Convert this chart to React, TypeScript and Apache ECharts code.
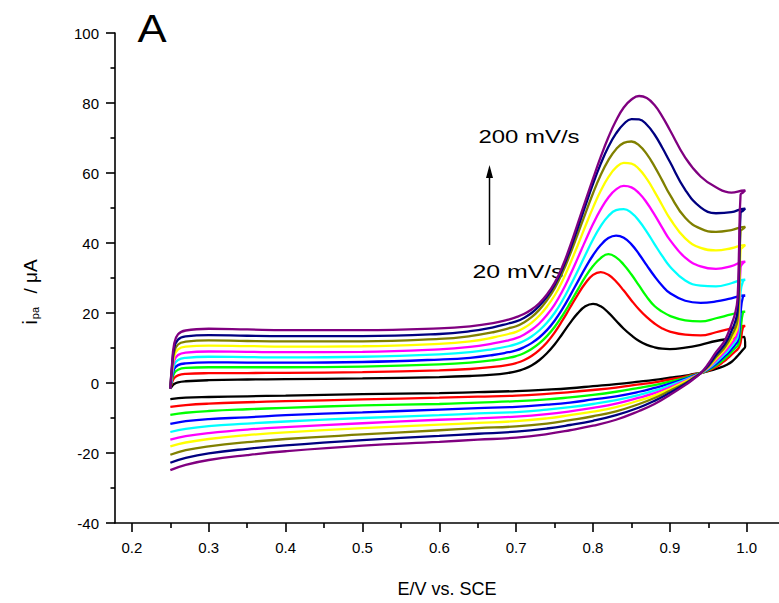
import React, { useEffect, useRef } from "react";
import * as echarts from "echarts";

// Scan rates (mV/s) and their colours
const scanRates = [20, 40, 60, 80, 100, 120, 140, 160, 180, 200];
const lineColors = ["#000000", "#ff0000", "#00ff00", "#0000ff", "#00ffff", "#ff00ff", "#ffff00", "#808000", "#000080", "#800080"];

// Axis tick labels
const xTickValues = [0.2, 0.3, 0.4, 0.5, 0.6, 0.7, 0.8, 0.9, 1.0];
const xMinorTickValues = [0.25, 0.35, 0.45, 0.55, 0.65, 0.75, 0.85, 0.95];

// Potentials (V vs SCE) of the anodic (forward) and cathodic (reverse) scans
const forwardE = [0.25, 0.252, 0.255, 0.26, 0.27, 0.3, 0.35, 0.4, 0.5,
  0.6, 0.64, 0.67, 0.69,
  0.7, 0.71, 0.72, 0.73, 0.74, 0.75, 0.76, 0.77, 0.78, 0.79, 0.8, 0.81, 0.82, 0.83, 0.84, 0.85, 0.86, 0.87, 0.88, 0.89, 0.9,
  0.92, 0.94, 0.96, 0.98, 0.997];
const reverseE = [0.998, 0.995, 0.992, 0.99, 0.988, 0.985, 0.98, 0.975, 0.97, 0.96,
  0.95, 0.94, 0.93, 0.92, 0.9, 0.88, 0.86, 0.83, 0.8, 0.77,
  0.74, 0.7, 0.65, 0.6, 0.5, 0.4, 0.35, 0.3, 0.27, 0.25];

// Currents (µA), forward scans
const fwd20 = [-1.6, -1.0, -0.3, 0.2, 0.5, 0.8, 1.0, 1.1, 1.3,
  1.7, 2.0, 2.4, 2.9,
  3.3, 4.0, 5.0, 6.5, 8.5, 11.0, 14.0, 17.1, 19.9, 21.9, 22.6, 21.9, 20.1, 17.8, 15.5, 13.6, 12.0, 10.9, 10.2, 9.8, 9.7,
  10.1, 10.9, 12.0, 12.7, 13.2];
const fwd40 = [-1.6, 0.0, 1.4, 2.2, 2.6, 2.8, 2.85, 2.9, 3.1,
  3.6, 4.0, 4.6, 5.2,
  5.7, 6.5, 7.7, 9.4, 11.6, 14.4, 17.8, 21.5, 25.2, 28.5, 30.9, 31.7, 30.9, 29.0, 26.4, 23.6, 21.0, 18.8, 17.0, 15.6, 14.7,
  13.8, 13.6, 14.5, 15.6, 16.3];
const fwd60 = [-1.6, 0.6, 2.8, 3.8, 4.3, 4.5, 4.5, 4.5, 4.7,
  5.3, 5.8, 6.5, 7.2,
  7.7, 8.5, 9.7, 11.3, 13.4, 16.0, 19.2, 22.8, 26.6, 30.3, 33.4, 35.7, 36.8, 35.9, 33.8, 31.0, 27.8, 24.6, 22.0, 20.4, 19.2,
  17.9, 17.6, 18.5, 19.6, 20.4];
const fwd80 = [-1.6, 1.2, 4.0, 5.1, 5.6, 5.9, 5.85, 5.8, 6.0,
  6.7, 7.2, 8.0, 8.8,
  9.3, 10.2, 11.4, 13.0, 15.1, 17.8, 21.1, 24.9, 28.9, 32.9, 36.5, 39.4, 41.4, 42.1, 41.5, 39.6, 36.8, 33.6, 30.5, 27.8, 25.7,
  23.5, 22.9, 23.3, 24.2, 25.0];
const fwd100 = [-1.6, 1.8, 5.2, 6.6, 7.2, 7.5, 7.4, 7.3, 7.5,
  8.2, 8.8, 9.7, 10.5,
  11.1, 12.0, 13.3, 15.0, 17.2, 20.0, 23.5, 27.6, 32.0, 36.6, 41.0, 44.8, 47.7, 49.4, 49.7, 48.6, 46.3, 43.2, 39.7, 36.3, 33.3,
  29.3, 27.8, 27.6, 28.5, 29.5];
const fwd120 = [-1.6, 2.4, 6.4, 8.0, 8.7, 9.0, 8.9, 8.8, 8.9,
  9.6, 10.3, 11.3, 12.2,
  12.8, 13.8, 15.2, 17.0, 19.4, 22.4, 26.2, 30.7, 35.6, 40.6, 45.4, 49.6, 53.0, 55.3, 56.3, 55.9, 54.2, 51.5, 48.1, 44.4, 40.9,
  35.8, 33.3, 32.6, 33.4, 34.7];
const fwd140 = [-1.6, 3.0, 7.6, 9.6, 10.4, 10.7, 10.55, 10.4, 10.5,
  11.2, 11.9, 13.0, 14.0,
  14.6, 15.7, 17.2, 19.2, 21.8, 25.0, 29.1, 34.0, 39.3, 44.8, 50.1, 54.9, 58.8, 61.6, 62.9, 62.7, 61.1, 58.3, 54.7, 50.8, 47.0,
  41.3, 38.6, 37.9, 38.5, 39.4];
const fwd160 = [-1.6, 3.6, 8.8, 11.0, 11.8, 12.2, 12.0, 11.9, 11.9,
  12.6, 13.4, 14.5, 15.6,
  16.2, 17.3, 18.8, 20.9, 23.6, 27.0, 31.4, 36.7, 42.5, 48.4, 54.2, 59.4, 63.7, 66.8, 68.6, 69.0, 67.9, 65.4, 61.9, 57.9, 53.8,
  47.2, 44.1, 43.2, 43.7, 44.6];
const fwd180 = [-1.6, 4.2, 10.0, 12.4, 13.3, 13.7, 13.5, 13.4, 13.4,
  14.0, 14.8, 15.9, 17.0,
  17.6, 18.6, 20.0, 22.0, 24.6, 28.0, 32.5, 38.0, 44.2, 50.6, 56.9, 62.6, 67.5, 71.3, 74.0, 75.4, 75.3, 73.8, 71.0, 67.3, 63.2,
  55.2, 50.2, 48.5, 48.8, 49.8];
const fwd200 = [-1.6, 4.8, 11.2, 13.9, 15.0, 15.5, 15.3, 15.1, 15.1,
  15.6, 16.2, 17.1, 18.1,
  18.8, 19.7, 21.0, 22.8, 25.3, 28.6, 33.2, 39.0, 45.5, 52.0, 58.4, 64.6, 70.2, 75.0, 78.7, 81.0, 82.0, 81.4, 79.4, 76.2, 72.3,
  64.4, 59.0, 55.9, 54.4, 55.0];

// Currents (µA), reverse scans
const rev20 = [10.4, 9.5, 8.7, 8.2, 7.7, 7.0, 6.0, 5.3, 4.8, 4.0,
  3.4, 2.9, 2.5, 2.1, 1.5, 0.9, 0.4, -0.3, -0.9, -1.5,
  -1.9, -2.3, -2.6, -2.9, -3.2, -3.6, -3.8, -4.0, -4.2, -4.6];
const rev40 = [16.3, 15.8, 11.5, 10.2, 9.6, 9.0, 8.0, 7.0, 6.1, 4.6,
  3.5, 2.8, 2.4, 1.8, 1.0, 0.2, -0.4, -1.3, -2.0, -2.6,
  -3.1, -3.6, -3.9, -4.2, -4.7, -5.2, -5.5, -5.9, -6.3, -6.8];
const rev60 = [20.4, 20.0, 15.0, 11.6, 10.6, 10.0, 8.8, 7.7, 6.7, 5.0,
  3.7, 2.8, 2.2, 1.5, 0.4, -0.6, -1.4, -2.5, -3.4, -4.1,
  -4.7, -5.2, -5.6, -6.0, -6.4, -7.1, -7.5, -8.0, -8.5, -9.1];
const rev80 = [25.0, 24.6, 20.0, 13.5, 11.8, 10.9, 9.6, 8.4, 7.4, 5.4,
  3.9, 2.8, 2.0, 1.2, -0.2, -1.4, -2.5, -3.8, -4.7, -5.6,
  -6.2, -6.8, -7.2, -7.6, -8.4, -9.2, -9.8, -10.3, -10.9, -11.7];
const rev100 = [29.5, 29.0, 26.0, 16.0, 13.0, 11.8, 10.4, 9.1, 8.0, 5.9,
  4.1, 2.8, 1.8, 0.9, -0.7, -2.2, -3.4, -4.9, -6.0, -6.9,
  -7.6, -8.3, -8.7, -9.2, -10.0, -11.0, -11.6, -12.3, -13.1, -14.0];
const rev120 = [34.7, 34.2, 33.0, 19.0, 14.4, 12.8, 11.2, 9.8, 8.6, 6.4,
  4.3, 2.8, 1.7, 0.6, -1.2, -2.9, -4.2, -5.9, -7.1, -8.1,
  -8.9, -9.6, -10.1, -10.5, -11.5, -12.6, -13.3, -14.3, -15.2, -16.2];
const rev140 = [39.4, 38.8, 38.0, 22.5, 16.0, 14.2, 12.2, 10.6, 9.2, 6.9,
  4.5, 2.8, 1.5, 0.4, -1.7, -3.6, -5.0, -6.9, -8.2, -9.2,
  -10.1, -10.9, -11.4, -11.9, -12.9, -14.1, -14.9, -16.0, -17.0, -18.1];
const rev160 = [44.6, 44.0, 43.4, 27.0, 18.0, 15.6, 13.4, 11.4, 9.8, 7.4,
  4.7, 2.8, 1.4, 0.0, -2.2, -4.3, -6.0, -8.1, -9.5, -10.6,
  -11.6, -12.4, -12.9, -13.5, -14.7, -16.0, -16.9, -18.1, -19.2, -20.5];
const rev180 = [49.8, 49.2, 48.6, 32.0, 20.5, 17.5, 14.8, 12.4, 10.6, 8.0,
  5.0, 2.8, 1.2, -0.3, -2.8, -5.1, -7.0, -9.2, -10.8, -12.0,
  -13.0, -13.9, -14.5, -15.1, -16.3, -17.8, -18.8, -20.1, -21.4, -22.8];
const rev200 = [55.0, 54.4, 53.8, 38.0, 24.0, 20.0, 16.6, 13.8, 11.6, 8.8,
  5.5, 2.8, 1.0, -0.6, -3.4, -6.0, -8.0, -10.5, -12.2, -13.5,
  -14.6, -15.6, -16.2, -16.8, -17.9, -19.5, -20.6, -22.0, -23.4, -24.9];

const forwardSets = [fwd20, fwd40, fwd60, fwd80, fwd100, fwd120, fwd140, fwd160, fwd180, fwd200];
const reverseSets = [rev20, rev40, rev60, rev80, rev100, rev120, rev140, rev160, rev180, rev200];

const FONT = "'Liberation Sans', Arial, Helvetica, sans-serif";

export default function App() {
  const ref = useRef<HTMLDivElement>(null);

  useEffect(() => {
    if (!ref.current) return;
    const chart = echarts.init(ref.current, undefined, { renderer: "svg" });

    const series = scanRates.map((rate, k) => ({
      type: "line",
      name: rate + " mV/s",
      data: [
        ...forwardE.map((e, i) => [e, forwardSets[k][i]]),
        ...reverseE.map((e, i) => [e, reverseSets[k][i]]),
      ],
      showSymbol: false,
      symbol: "none",
      smooth: 0.45,
      lineStyle: { color: lineColors[k], width: 2.3 },
      itemStyle: { color: lineColors[k] },
      z: 2 + k,
      clip: true,
    }));

    const axisLineStyle = { color: "#000", width: 1.6 };
    const centred = { align: "center", verticalAlign: "middle", textAlign: "center", textVerticalAlign: "middle" };

    chart.setOption({
      animation: false,
      backgroundColor: "#ffffff",
      grid: { left: 115, right: 0, top: 33, bottom: 75.5, containLabel: false },
      xAxis: [
        {
          type: "value",
          min: 0.178,
          max: 1.042,
          position: "bottom",
          axisLine: { show: true, onZero: false, lineStyle: axisLineStyle },
          axisTick: { show: true, inside: false, length: 9, customValues: xTickValues, lineStyle: axisLineStyle },
          axisLabel: {
            customValues: xTickValues,
            formatter: (v: number) => v.toFixed(1),
            margin: 17,
            fontSize: 15,
            color: "#000",
            fontFamily: FONT,
          },
          splitLine: { show: false },
          name: "E/V vs. SCE",
          nameLocation: "middle",
          nameGap: 57,
          nameTextStyle: { fontSize: 18, color: "#000", fontFamily: FONT },
        },
        {
          type: "value",
          min: 0.178,
          max: 1.042,
          position: "bottom",
          axisLine: { show: false, onZero: false },
          axisTick: { show: true, inside: false, length: 5, customValues: xMinorTickValues, lineStyle: axisLineStyle },
          axisLabel: { show: false },
          splitLine: { show: false },
        },
      ],
      yAxis: {
        type: "value",
        min: -40,
        max: 100,
        interval: 20,
        axisLine: { show: true, onZero: false, lineStyle: axisLineStyle },
        axisTick: { show: true, inside: false, length: 9, lineStyle: axisLineStyle },
        minorTick: { show: true, splitNumber: 2, length: 4.5, lineStyle: axisLineStyle },
        axisLabel: { margin: 16, fontSize: 15, color: "#000", fontFamily: FONT },
        splitLine: { show: false },
        minorSplitLine: { show: false },
        name: "{i|i}{sub|pa}{t| / μA}",
        nameLocation: "middle",
        nameGap: 75,
        nameTextStyle: {
          color: "#000",
          fontFamily: FONT,
          padding: [0, 28, 0, 0],
          rich: {
            i: { fontSize: 20, fontFamily: FONT, color: "#000", lineHeight: 22, verticalAlign: "bottom" },
            sub: { fontSize: 11, fontFamily: FONT, color: "#000", lineHeight: 12, verticalAlign: "bottom", padding: [0, 8, 0, 1] },
            t: { fontSize: 19, fontFamily: FONT, color: "#000", lineHeight: 22, verticalAlign: "bottom" },
          },
        },
      },
      graphic: [
        {
          type: "text",
          x: 152,
          y: 29,
          scaleX: 1.15,
          style: { text: "A", fontSize: 38, fontFamily: FONT, fill: "#000", ...centred },
        },
        {
          type: "text",
          x: 529,
          y: 137,
          scaleX: 1.33,
          style: { text: "200 mV/s", fontSize: 18, fontFamily: FONT, fill: "#000", ...centred },
        },
        {
          type: "text",
          x: 518,
          y: 272,
          scaleX: 1.38,
          style: { text: "20 mV/s", fontSize: 18, fontFamily: FONT, fill: "#000", ...centred },
        },
        {
          type: "line",
          shape: { x1: 489.5, y1: 245, x2: 489.5, y2: 175 },
          style: { stroke: "#000", lineWidth: 1.5 },
        },
        {
          type: "polygon",
          shape: { points: [[489.5, 165], [486, 178], [493, 178]] },
          style: { fill: "#000" },
        },
      ],
      series,
    });

    return () => chart.dispose();
  }, []);

  return (
    <div
      ref={ref}
      style={{ position: "fixed", left: 0, top: 0, width: 779, height: 603, background: "#fff" }}
    />
  );
}
